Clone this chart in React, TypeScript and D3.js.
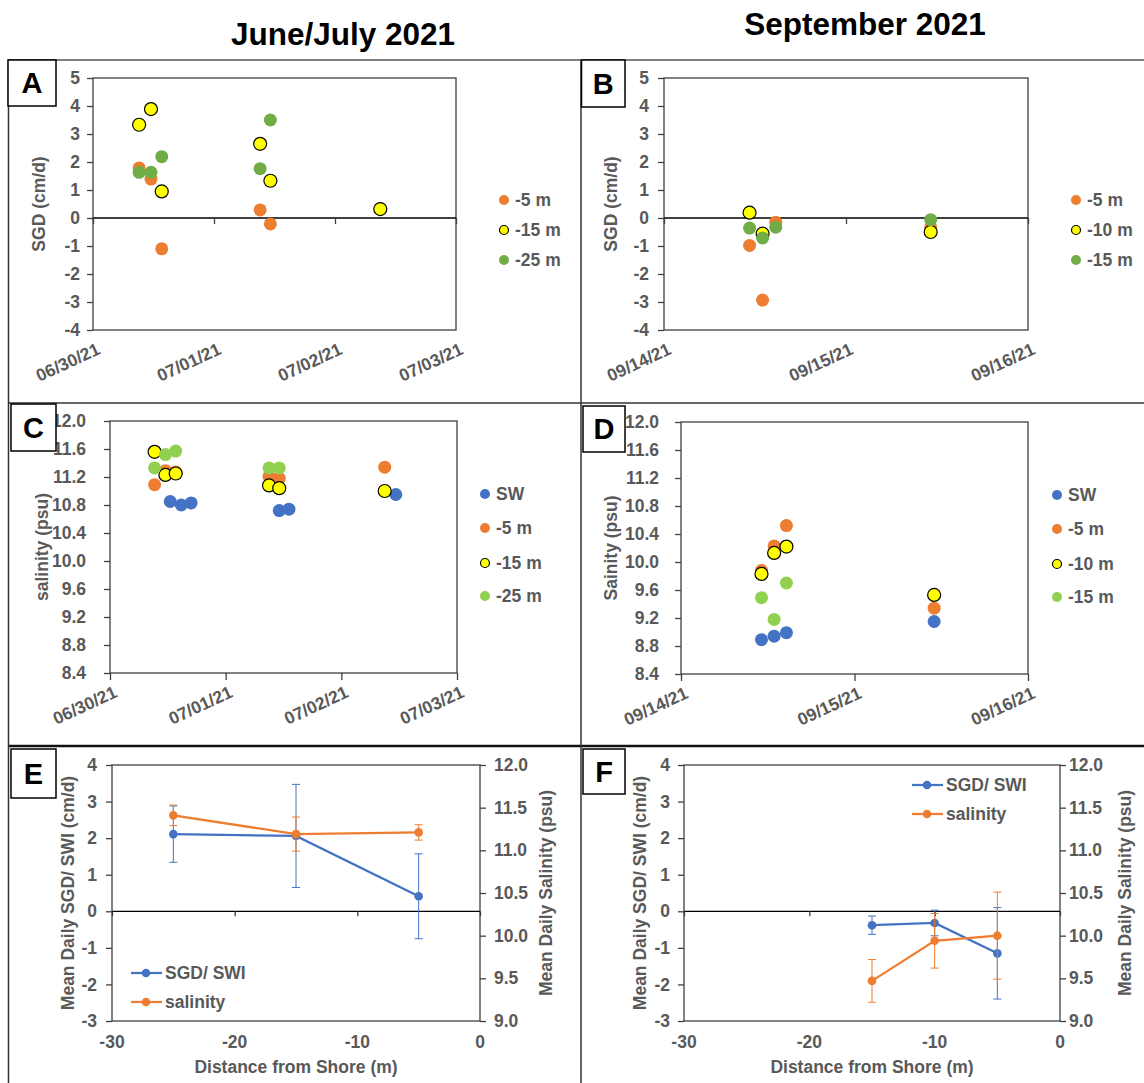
import React, { useEffect, useRef } from 'react';
import * as d3 from 'd3';

const FONT = "'Liberation Sans', Arial, sans-serif";
const GRAY = '#595959';
const ORANGE = '#ED7D31';
const YELLOW = '#FFFF00';
const GREEN = '#70AD47';
const LIGHTGREEN = '#92D050';
const BLUE = '#4472C4';

const parseTime = d3.timeParse('%m/%d/%y %H:%M');
const parseDay = d3.timeParse('%m/%d/%y');

// excel style numbers: plain hyphen for negatives
const fmtInt = (d: any) => String(d);
const fmtOne = (d: any) => d3.format('.1f')(d).replace('\u2212', '-');

// tick labels
const junDays = ['06/30/21', '07/01/21', '07/02/21', '07/03/21'];
const sepDays = ['09/14/21', '09/15/21', '09/16/21'];
const sgdTicks = [-4, -3, -2, -1, 0, 1, 2, 3, 4, 5];
const salTicks = [8.4, 8.8, 9.2, 9.6, 10.0, 10.4, 10.8, 11.2, 11.6, 12.0];
const meanSgdTicks = [-3, -2, -1, 0, 1, 2, 3, 4];
const meanSalTicks = [9.0, 9.5, 10.0, 10.5, 11.0, 11.5, 12.0];
const distTicks = [-30, -20, -10, 0];

// A: SGD June/July
const junSgd5: [string, number][] = [
  ['06/30/21 09:09', 1.79], ['06/30/21 11:30', 1.39], ['06/30/21 13:38', -1.1],
  ['07/01/21 09:09', 0.29], ['07/01/21 11:11', -0.21],
];
const junSgd15: [string, number][] = [
  ['06/30/21 09:09', 3.33], ['06/30/21 11:30', 3.89], ['06/30/21 13:38', 0.95],
  ['07/01/21 09:09', 2.65], ['07/01/21 11:11', 1.33], ['07/02/21 08:59', 0.32],
];
const junSgd25: [string, number][] = [
  ['06/30/21 09:09', 1.63], ['06/30/21 11:30', 1.63], ['06/30/21 13:38', 2.19],
  ['07/01/21 09:09', 1.76], ['07/01/21 11:11', 3.5],
];

// B: SGD September
const sepSgd5: [string, number][] = [
  ['09/14/21 11:17', -0.98], ['09/14/21 13:00', -2.93], ['09/14/21 14:44', -0.15], ['09/15/21 11:10', -0.33],
];
const sepSgd10: [string, number][] = [
  ['09/14/21 11:17', 0.19], ['09/14/21 13:00', -0.56], ['09/15/21 11:10', -0.5],
];
const sepSgd15: [string, number][] = [
  ['09/14/21 11:17', -0.36], ['09/14/21 13:00', -0.71], ['09/14/21 14:44', -0.33], ['09/15/21 11:10', -0.06],
];

// C: salinity June/July
const junSalSW: [string, number][] = [
  ['06/30/21 12:30', 10.85], ['06/30/21 14:47', 10.8], ['06/30/21 16:50', 10.83],
  ['07/01/21 11:07', 10.72], ['07/01/21 13:08', 10.74], ['07/02/21 11:18', 10.95],
];
const junSal5: [string, number][] = [
  ['06/30/21 09:15', 11.09], ['06/30/21 11:30', 11.29], ['06/30/21 13:38', 11.27],
  ['07/01/21 09:00', 11.21], ['07/01/21 11:07', 11.18], ['07/02/21 09:00', 11.34],
];
const junSal15: [string, number][] = [
  ['06/30/21 09:15', 11.56], ['06/30/21 11:30', 11.23], ['06/30/21 13:38', 11.25],
  ['07/01/21 09:00', 11.08], ['07/01/21 11:07', 11.04], ['07/02/21 09:00', 11.0],
];
const junSal25: [string, number][] = [
  ['06/30/21 09:15', 11.33], ['06/30/21 11:30', 11.52], ['06/30/21 13:38', 11.57],
  ['07/01/21 09:00', 11.33], ['07/01/21 11:07', 11.33],
];

// D: salinity September
const sepSalSW: [string, number][] = [
  ['09/14/21 11:08', 8.89], ['09/14/21 12:53', 8.94], ['09/14/21 14:35', 8.99], ['09/15/21 11:01', 9.15],
];
const sepSal5: [string, number][] = [
  ['09/14/21 11:08', 9.88], ['09/14/21 12:53', 10.23], ['09/14/21 14:35', 10.52], ['09/15/21 11:01', 9.34],
];
const sepSal10: [string, number][] = [
  ['09/14/21 11:08', 9.83], ['09/14/21 12:53', 10.13], ['09/14/21 14:35', 10.22], ['09/15/21 11:01', 9.53],
];
const sepSal15: [string, number][] = [
  ['09/14/21 11:08', 9.49], ['09/14/21 12:53', 9.18], ['09/14/21 14:35', 9.7],
];

// E / F: daily means by distance
const junDist = [-25, -15, -5];
const junMeanSgd = [2.11, 2.06, 0.41];
const junMeanSgdErr = [0.77, 1.41, 1.16];
const junMeanSal = [11.41, 11.19, 11.21];
const junMeanSalErr = [0.12, 0.2, 0.09];

const sepDist = [-15, -10, -5];
const sepMeanSgd = [-0.38, -0.32, -1.15];
const sepMeanSgdErr = [0.25, 0.35, 1.25];
const sepMeanSal = [9.47, 9.94, 10.0];
const sepMeanSalErr = [0.25, 0.32, 0.51];

type Sel = d3.Selection<SVGGElement, unknown, null, undefined>;

function styleText(t: any, size = 17.5) {
  return t.attr('font-family', FONT).attr('font-weight', 'bold').attr('font-size', size).attr('fill', GRAY);
}

function letterBox(g: Sel, x0: number, y0: number, x1: number, y1: number, letter: string) {
  g.append('rect').attr('x', x0).attr('y', y0).attr('width', x1 - x0).attr('height', y1 - y0)
    .attr('fill', '#fff').attr('stroke', '#000').attr('stroke-width', 1.5);
  g.append('text').attr('x', (x0 + x1) / 2).attr('y', (y0 + y1) / 2 + 10)
    .attr('text-anchor', 'middle').attr('font-family', FONT).attr('font-weight', 'bold')
    .attr('font-size', 29).attr('fill', '#000').text(letter);
}

function scatterPanel(g: Sel, cfg: any) {
  const days = cfg.days.map((d: string) => parseDay(d) as Date);
  const x = d3.scaleTime().domain([days[0], days[days.length - 1]]).range([cfg.x0, cfg.x1]);
  const y = d3.scaleLinear().domain([cfg.yTicks[0], cfg.yTicks[cfg.yTicks.length - 1]]).range([cfg.y1, cfg.y0]);

  g.append('rect').attr('x', cfg.x0).attr('y', cfg.y0).attr('width', cfg.x1 - cfg.x0).attr('height', cfg.y1 - cfg.y0)
    .attr('fill', 'none').attr('stroke', '#404040').attr('stroke-width', 1.3);

  const ya = g.append('g').attr('transform', `translate(${cfg.x0},0)`)
    .call(d3.axisLeft(y).tickValues(cfg.yTicks).tickSize(6).tickPadding(cfg.labelGap).tickFormat(cfg.yFormat));
  ya.select('.domain').remove();
  ya.selectAll('line').attr('stroke', '#404040').attr('stroke-width', 1.3);
  styleText(ya.selectAll('text'));

  const axisY = cfg.zero ? y(0) : cfg.y1;
  if (cfg.zero) {
    g.append('line').attr('x1', cfg.x0).attr('x2', cfg.x1).attr('y1', y(0)).attr('y2', y(0))
      .attr('stroke', '#000').attr('stroke-width', 1.3);
  }
  const xa = g.append('g').attr('transform', `translate(0,${axisY})`)
    .call(d3.axisBottom(x).tickValues(days).tickSize(cfg.zero ? 6 : 7).tickFormat(() => ''));
  xa.select('.domain').remove();
  xa.selectAll('line').attr('stroke', '#404040').attr('stroke-width', 1.3);

  days.forEach((d: Date, i: number) => {
    styleText(g.append('text'))
      .attr('transform', `translate(${x(d) + 3},${cfg.y1 + 12}) rotate(-25)`)
      .attr('text-anchor', 'end').attr('dy', '0.71em').text(cfg.days[i]);
  });

  g.append('text').attr('transform', `translate(${cfg.titleX},${(cfg.y0 + cfg.y1) / 2}) rotate(-90)`)
    .attr('text-anchor', 'middle').attr('dy', '0.35em')
    .call((t: any) => styleText(t)).text(cfg.yLabel);

  cfg.series.forEach((s: any) => {
    g.append('g').selectAll('circle').data(s.data).enter().append('circle')
      .attr('cx', (d: any) => x(parseTime(d[0]) as Date))
      .attr('cy', (d: any) => y(d[1]))
      .attr('r', 6.5)
      .attr('fill', s.color)
      .attr('stroke', s.outline ? '#000' : 'none')
      .attr('stroke-width', 1.2);
  });

  cfg.series.forEach((s: any, i: number) => {
    const ly = cfg.legendY[i];
    g.append('circle').attr('cx', cfg.legendX).attr('cy', ly).attr('r', s.outline ? 4.5 : 5)
      .attr('fill', s.color).attr('stroke', s.outline ? '#000' : 'none').attr('stroke-width', 1.2);
    styleText(g.append('text')).attr('x', cfg.legendX + 11).attr('y', ly).attr('dy', '0.35em').text(s.name);
  });
}

function meanPanel(g: Sel, cfg: any) {
  const x = d3.scaleLinear().domain([distTicks[0], distTicks[distTicks.length - 1]]).range([cfg.x0, cfg.x1]);
  const yL = d3.scaleLinear().domain([meanSgdTicks[0], meanSgdTicks[meanSgdTicks.length - 1]]).range([cfg.y1, cfg.y0]);
  const yR = d3.scaleLinear().domain([meanSalTicks[0], meanSalTicks[meanSalTicks.length - 1]]).range([cfg.y1, cfg.y0]);

  g.append('rect').attr('x', cfg.x0).attr('y', cfg.y0).attr('width', cfg.x1 - cfg.x0).attr('height', cfg.y1 - cfg.y0)
    .attr('fill', 'none').attr('stroke', '#404040').attr('stroke-width', 1.3);

  const la = g.append('g').attr('transform', `translate(${cfg.x0},0)`)
    .call(d3.axisLeft(yL).tickValues(meanSgdTicks).tickSize(6).tickPadding(cfg.leftGap).tickFormat(fmtInt));
  la.select('.domain').remove();
  la.selectAll('line').attr('stroke', '#404040').attr('stroke-width', 1.3);
  styleText(la.selectAll('text'));

  const ra = g.append('g').attr('transform', `translate(${cfg.x1},0)`)
    .call(d3.axisRight(yR).tickValues(meanSalTicks).tickSize(6).tickPadding(cfg.rightGap).tickFormat(fmtOne));
  ra.select('.domain').remove();
  ra.selectAll('line').attr('stroke', '#404040').attr('stroke-width', 1.3);
  styleText(ra.selectAll('text'));

  g.append('line').attr('x1', cfg.x0).attr('x2', cfg.x1).attr('y1', yL(0)).attr('y2', yL(0))
    .attr('stroke', '#000').attr('stroke-width', 1.3);
  const xa = g.append('g').attr('transform', `translate(0,${yL(0)})`)
    .call(d3.axisBottom(x).tickValues(distTicks).tickSize(5).tickFormat(() => ''));
  xa.select('.domain').remove();
  xa.selectAll('line').attr('stroke', '#404040').attr('stroke-width', 1.3);

  distTicks.forEach((d) => {
    styleText(g.append('text')).attr('x', x(d)).attr('y', cfg.y1 + 27).attr('text-anchor', 'middle').text(fmtInt(d));
  });
  styleText(g.append('text')).attr('x', (cfg.x0 + cfg.x1) / 2).attr('y', cfg.y1 + 52)
    .attr('text-anchor', 'middle').text('Distance from  Shore (m)');

  g.append('text').attr('transform', `translate(${cfg.leftTitleX},${(cfg.y0 + cfg.y1) / 2}) rotate(-90)`)
    .attr('text-anchor', 'middle').attr('dy', '0.35em').call((t: any) => styleText(t)).text('Mean Daily  SGD/ SWI (cm/d)');
  g.append('text').attr('transform', `translate(${cfg.rightTitleX},${(cfg.y0 + cfg.y1) / 2}) rotate(-90)`)
    .attr('text-anchor', 'middle').attr('dy', '0.35em').call((t: any) => styleText(t)).text('Mean Daily Salinity (psu)');

  const series = [
    { name: 'SGD/ SWI', color: BLUE, y: yL, vals: cfg.sgd, err: cfg.sgdErr },
    { name: 'salinity', color: ORANGE, y: yR, vals: cfg.sal, err: cfg.salErr },
  ];
  series.forEach((s) => {
    const pts = cfg.dist.map((d: number, i: number) => ({ d, v: s.vals[i], e: s.err[i] }));
    const eg = g.append('g');
    pts.forEach((p: any) => {
      const px = x(p.d);
      const top = s.y(p.v + p.e);
      const bot = s.y(p.v - p.e);
      eg.append('line').attr('x1', px).attr('x2', px).attr('y1', top).attr('y2', bot).attr('stroke', s.color).attr('stroke-width', 1);
      eg.append('line').attr('x1', px - 4).attr('x2', px + 4).attr('y1', top).attr('y2', top).attr('stroke', s.color).attr('stroke-width', 1);
      eg.append('line').attr('x1', px - 4).attr('x2', px + 4).attr('y1', bot).attr('y2', bot).attr('stroke', s.color).attr('stroke-width', 1);
    });
    const line = d3.line<any>().x((p) => x(p.d)).y((p) => s.y(p.v));
    g.append('path').datum(pts).attr('d', line).attr('fill', 'none').attr('stroke', s.color).attr('stroke-width', 2.25);
    g.append('g').selectAll('circle').data(pts).enter().append('circle')
      .attr('cx', (p: any) => x(p.d)).attr('cy', (p: any) => s.y(p.v)).attr('r', 4.3).attr('fill', s.color);
  });

  series.forEach((s, i) => {
    const ly = cfg.legendY + i * 29;
    g.append('line').attr('x1', cfg.legendX).attr('x2', cfg.legendX + 31).attr('y1', ly).attr('y2', ly)
      .attr('stroke', s.color).attr('stroke-width', 2.25);
    g.append('circle').attr('cx', cfg.legendX + 15).attr('cy', ly).attr('r', 4.3).attr('fill', s.color);
    styleText(g.append('text')).attr('x', cfg.legendX + 34).attr('y', ly).attr('dy', '0.35em').text(s.name);
  });
}

const App = () => {
  const svgRef = useRef<SVGSVGElement>(null);

  useEffect(() => {
    const svg = d3.select(svgRef.current);
    svg.selectAll('*').remove();
    const root = svg.append('g') as unknown as Sel;

    // column titles
    root.append('text').attr('x', 343).attr('y', 45).attr('text-anchor', 'middle')
      .attr('font-family', FONT).attr('font-weight', 'bold').attr('font-size', 31.5).text('June/July 2021');
    root.append('text').attr('x', 865).attr('y', 35).attr('text-anchor', 'middle')
      .attr('font-family', FONT).attr('font-weight', 'bold').attr('font-size', 31.5).text('September 2021');

    // panel frame lines
    root.append('line').attr('x1', 8).attr('x2', 1144).attr('y1', 60).attr('y2', 60).attr('stroke', '#555').attr('stroke-width', 1.5);
    root.append('line').attr('x1', 8).attr('x2', 1144).attr('y1', 403).attr('y2', 403).attr('stroke', '#333').attr('stroke-width', 1.5);
    root.append('line').attr('x1', 8).attr('x2', 1144).attr('y1', 746).attr('y2', 746).attr('stroke', '#111').attr('stroke-width', 2.5);
    root.append('line').attr('x1', 8.5).attr('x2', 8.5).attr('y1', 60).attr('y2', 1083).attr('stroke', '#333').attr('stroke-width', 1.5);
    root.append('line').attr('x1', 581).attr('x2', 581).attr('y1', 60).attr('y2', 1083).attr('stroke', '#333').attr('stroke-width', 1.5);

    scatterPanel(root.append('g'), {
      x0: 93, x1: 456, y0: 78, y1: 330, days: junDays, yTicks: sgdTicks, yFormat: fmtInt,
      labelGap: 7, zero: true, titleX: 39, yLabel: 'SGD (cm/d)', legendX: 504, legendY: [200, 230, 260],
      series: [
        { name: '-5 m', color: ORANGE, data: junSgd5 },
        { name: '-15 m', color: YELLOW, outline: true, data: junSgd15 },
        { name: '-25 m', color: GREEN, data: junSgd25 },
      ],
    });
    scatterPanel(root.append('g'), {
      x0: 664, x1: 1028, y0: 78, y1: 330, days: sepDays, yTicks: sgdTicks, yFormat: fmtInt,
      labelGap: 9, zero: true, titleX: 611, yLabel: 'SGD (cm/d)', legendX: 1076, legendY: [200, 230, 260],
      series: [
        { name: '-5 m', color: ORANGE, data: sepSgd5 },
        { name: '-10 m', color: YELLOW, outline: true, data: sepSgd10 },
        { name: '-15 m', color: GREEN, data: sepSgd15 },
      ],
    });
    scatterPanel(root.append('g'), {
      x0: 110, x1: 457, y0: 421, y1: 673, days: junDays, yTicks: salTicks, yFormat: fmtOne,
      labelGap: 18, zero: false, titleX: 42, yLabel: 'salinity  (psu)', legendX: 485, legendY: [494, 528, 563, 596],
      series: [
        { name: 'SW', color: BLUE, data: junSalSW },
        { name: '-5 m', color: ORANGE, data: junSal5 },
        { name: '-15 m', color: YELLOW, outline: true, data: junSal15 },
        { name: '-25 m', color: LIGHTGREEN, data: junSal25 },
      ],
    });
    scatterPanel(root.append('g'), {
      x0: 681, x1: 1028, y0: 422, y1: 674, days: sepDays, yTicks: salTicks, yFormat: fmtOne,
      labelGap: 16, zero: false, titleX: 611, yLabel: 'Sainity (psu)', legendX: 1057, legendY: [495, 529, 564, 597],
      series: [
        { name: 'SW', color: BLUE, data: sepSalSW },
        { name: '-5 m', color: ORANGE, data: sepSal5 },
        { name: '-10 m', color: YELLOW, outline: true, data: sepSal10 },
        { name: '-15 m', color: LIGHTGREEN, data: sepSal15 },
      ],
    });
    meanPanel(root.append('g'), {
      x0: 112, x1: 480, y0: 765, y1: 1021, leftGap: 9, rightGap: 8, leftTitleX: 68, rightTitleX: 546,
      dist: junDist, sgd: junMeanSgd, sgdErr: junMeanSgdErr, sal: junMeanSal, salErr: junMeanSalErr,
      legendX: 131, legendY: 973,
    });
    meanPanel(root.append('g'), {
      x0: 684, x1: 1060, y0: 765, y1: 1021, leftGap: 8, rightGap: 3, leftTitleX: 640, rightTitleX: 1125,
      dist: sepDist, sgd: sepMeanSgd, sgdErr: sepMeanSgdErr, sal: sepMeanSal, salErr: sepMeanSalErr,
      legendX: 912, legendY: 785,
    });

    letterBox(root, 8, 60, 56, 106, 'A');
    letterBox(root, 581.5, 60, 625, 107, 'B');
    letterBox(root, 11, 404, 56, 451, 'C');
    letterBox(root, 583, 406, 625, 452, 'D');
    letterBox(root, 11, 749, 56, 798, 'E');
    letterBox(root, 583, 749, 625, 794, 'F');
  }, []);

  return (
    <svg ref={svgRef} width={1144} height={1083}
      style={{ position: 'absolute', left: 0, top: 0, background: '#fff' }} />
  );
};

export default App;
